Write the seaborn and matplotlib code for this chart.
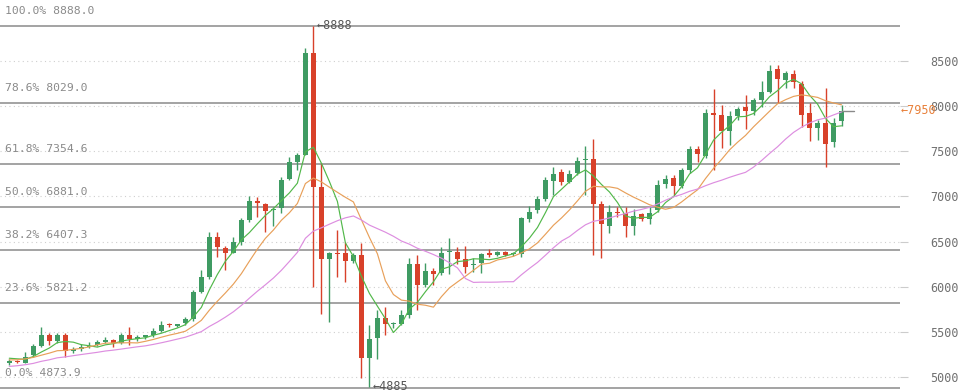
import numpy as np
import pandas as pd
import matplotlib
matplotlib.use('Agg')
import matplotlib.pyplot as plt
import seaborn as sns

# daily candles
opens = [5152, 5180, 5158, 5240, 5343, 5468, 5402, 5468, 5284, 5307,
         5329, 5354, 5388, 5410, 5380, 5468, 5424, 5439, 5468, 5513,
         5585, 5565, 5594, 5638, 5944, 6104, 6547, 6428, 6376, 6498,
         6738, 6952, 6915, 6849, 6868, 7195, 7380, 7458, 8583, 7107,
         6306, 6369, 6369, 6287, 6351, 5214, 5428, 5650, 5585, 5587,
         5686, 6251, 6018, 6177, 6155, 6384, 6384, 6303, 6236, 6259,
         6369, 6355, 6384, 6360, 6362, 6746, 6849, 6970, 7173, 7270,
         7162, 7255, 7402, 7413, 6915, 6675, 6819, 6819, 6675, 6804,
         6746, 6849, 7136, 7203, 7114, 7292, 7524, 7446, 7920, 7904,
         7727, 7889, 7989, 7948, 8066, 8160, 8409, 8292, 8350, 8250,
         7920, 7760, 7808, 7598, 7834]
highs = [5196, 5188, 5277, 5362, 5557, 5490, 5490, 5490, 5336, 5365,
         5388, 5410, 5446, 5424, 5490, 5557, 5468, 5468, 5539, 5617,
         5601, 5590, 5661, 5963, 6184, 6605, 6605, 6450, 6547, 6761,
         7004, 6996, 6930, 6885, 7217, 7433, 7483, 8639, 8888, 7372,
         6387, 6627, 6498, 6369, 6480, 5576, 5742, 5771, 5612, 5742,
         6313, 6351, 6259, 6204, 6442, 6535, 6436, 6450, 6314, 6369,
         6414, 6399, 6392, 6387, 6768, 6894, 7004, 7217, 7328, 7300,
         7292, 7439, 7557, 7631, 6952, 6905, 6885, 6885, 6857, 6819,
         6885, 7181, 7237, 7237, 7311, 7558, 7558, 7965, 8185, 8011,
         7945, 7992, 8122, 8093, 8274, 8450, 8454, 8389, 8400, 8277,
         8030, 7846, 8196, 7863, 8011]
lows = [5136, 5152, 5152, 5225, 5329, 5351, 5373, 5225, 5262, 5284,
        5321, 5343, 5373, 5329, 5365, 5354, 5395, 5424, 5446, 5498,
        5550, 5557, 5576, 5623, 5926, 6082, 6325, 6184, 6369, 6465,
        6716, 6774, 6608, 6672, 6812, 7182, 7292, 7458, 6000, 5697,
        5612, 6110, 6055, 6259, 4985, 4885, 5196, 5465, 5539, 5576,
        5650, 5742, 6000, 6018, 6129, 6140, 6251, 6148, 6166, 6155,
        6332, 6340, 6340, 6340, 6332, 6716, 6812, 6952, 7015, 7126,
        7144, 7237, 7015, 6351, 6313, 6592, 6774, 6553, 6573, 6731,
        6694, 6830, 7090, 7015, 7090, 7262, 7384, 7429, 7292, 7531,
        7568, 7845, 7745, 7900, 7992, 8140, 8030, 8197, 8197, 7771,
        7612, 7624, 7328, 7550, 7782]
closes = [5180, 5166, 5225, 5343, 5468, 5402, 5468, 5284, 5307, 5329,
          5343, 5391, 5410, 5373, 5468, 5424, 5446, 5461, 5513, 5579,
          5573, 5587, 5645, 5944, 6104, 6547, 6436, 6376, 6494, 6738,
          6952, 6923, 6841, 6863, 7187, 7380, 7461, 8583, 7107, 6306,
          6369, 6358, 6287, 6351, 5214, 5421, 5650, 5587, 5592, 5686,
          6251, 6018, 6177, 6140, 6376, 6392, 6306, 6221, 6251, 6362,
          6355, 6384, 6355, 6366, 6757, 6830, 6970, 7181, 7251, 7162,
          7247, 7391, 7417, 6915, 6690, 6830, 6811, 6675, 6782, 6746,
          6819, 7122, 7188, 7114, 7292, 7524, 7469, 7926, 7904, 7727,
          7885, 7965, 7948, 8066, 8152, 8390, 8300, 8372, 8270, 7900,
          7760, 7808, 7576, 7815, 7950]
# closes before the visible window (estimated from where the MAs start)
prev_closes = [5020, 5000, 5050, 5010, 5060, 5030, 5080, 5040, 5070, 5100,
               5150, 5120, 5180, 5230, 5170, 5200, 5250, 5190, 5220]

fib_pcts = ['100.0%', '78.6%', '61.8%', '50.0%', '38.2%', '23.6%', '0.0%']
fib_levels = [8888.0, 8029.0, 7354.6, 6881.0, 6407.3, 5821.2, 4873.9]
y_ticks = [5000, 5500, 6000, 6500, 7000, 7500, 8000, 8500]

GREEN = '#3f9b63'
RED = '#d8412a'

df = pd.DataFrame({'open': opens, 'high': highs, 'low': lows, 'close': closes})
df['i'] = np.arange(len(df))
full = pd.Series(prev_closes + closes)
n_prev = len(prev_closes)
df['MA5'] = full.rolling(5, min_periods=1).mean().values[n_prev:]
df['MA10'] = full.rolling(10, min_periods=1).mean().values[n_prev:]
df['MA20'] = full.rolling(20, min_periods=1).mean().values[n_prev:]

sns.set_theme(style='white')
plt.rcParams['font.family'] = ['DejaVu Sans Mono', 'DejaVu Sans']

fig = plt.figure(figsize=(9.79, 3.91), dpi=100)
ax = fig.add_axes([0, 0, 900 / 979, 1])

# dotted price grid
for t in y_ticks:
    ax.axhline(t, color='#cfcfcf', lw=0.8, ls=(0, (1, 3)), zorder=0)

# fibonacci levels
for pct, lev in zip(fib_pcts, fib_levels):
    ax.axhline(lev, color='#8a8a8a', lw=1.1, zorder=1)
    ax.annotate(f'{pct} {lev:.1f}', xy=(0, lev), xycoords=('axes fraction', 'data'),
                xytext=(5, 15), textcoords='offset pixels', va='center', ha='left',
                fontsize=8.2, color='#8a8a8a')

# candles
up = df['close'] >= df['open']
cols = np.where(up, GREEN, RED)
ax.vlines(df['i'], df['low'], df['high'], colors=cols, lw=1, zorder=3)
body_lo = np.minimum(df['open'], df['close'])
body_h = np.maximum(np.abs(df['close'] - df['open']), 12)
ax.bar(df['i'], body_h, bottom=body_lo, width=0.62, color=cols, zorder=4, linewidth=0)

# moving averages
ma = df.melt(id_vars='i', value_vars=['MA5', 'MA10', 'MA20'], var_name='ma', value_name='v')
sns.lineplot(data=ma, x='i', y='v', hue='ma', palette={'MA5': '#52b84a', 'MA10': '#e8a05a', 'MA20': '#dd8ee0'},
             lw=0.85, legend=False, ax=ax, zorder=5)

# last price marker
last = df['close'].iloc[-1]
ax.plot([df['i'].iloc[-1], df['i'].iloc[-1] + 1.5], [last, last], color='#8a8a8a', lw=1, zorder=5)
ax.annotate(f'\u2190{last:.0f}', xy=(1.0, last), xycoords=('axes fraction', 'data'),
            xytext=(1, 0), textcoords='offset pixels', va='center', ha='left',
            fontsize=8.5, color='#e8803a', annotation_clip=False)

# high / low markers
hi_i = int(df['high'].idxmax())
lo_i = int(df['low'].idxmin())
ax.annotate(f'\u2190{df["high"].max():.0f}', xy=(hi_i, df['high'].max()), xytext=(3, 0),
            textcoords='offset pixels', va='center', ha='left', fontsize=8.5, color='#555555')
ax.annotate(f'\u2190{df["low"].min():.0f}', xy=(lo_i, df['low'].min()), xytext=(3, 1),
            textcoords='offset pixels', va='center', ha='left', fontsize=8.5, color='#555555')

ax.set_xlim(-1.16, 111.3)
ax.set_ylim(4845, 9175)
ax.set_xticks([])
ax.set_yticks(y_ticks)
ax.yaxis.tick_right()
ax.tick_params(axis='y', length=6, width=0.8, color='#cccccc', pad=16, labelsize=8.5, labelcolor='#707070')
ax.set_xlabel('')
ax.set_ylabel('')
for s in ax.spines.values():
    s.set_visible(False)

fig.savefig('out.png', dpi=100)
